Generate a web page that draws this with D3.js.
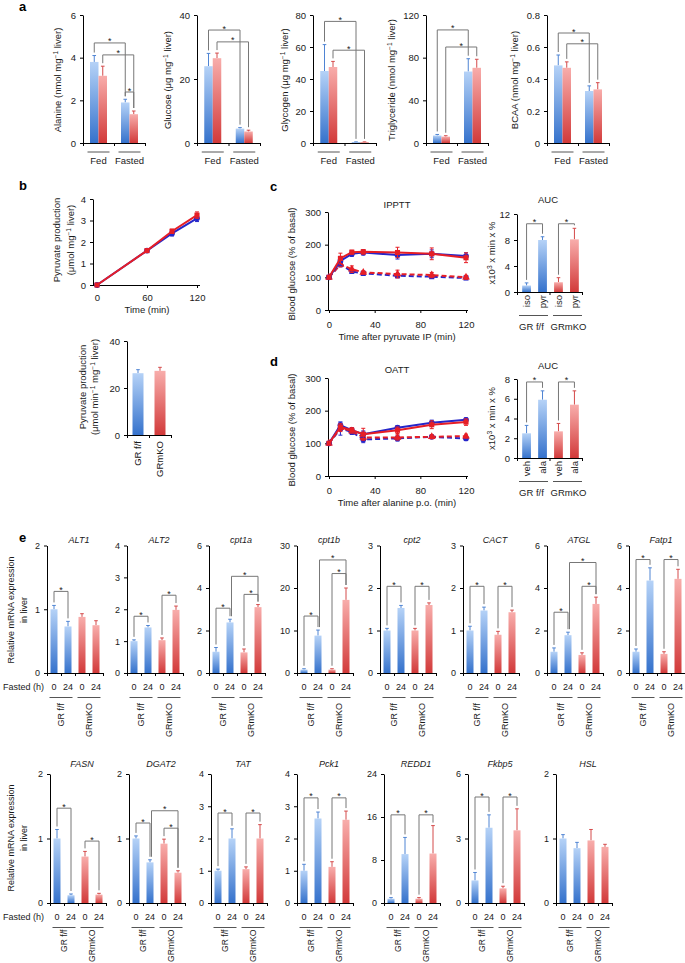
<!DOCTYPE html>
<html><head><meta charset="utf-8">
<script src="https://cdn.jsdelivr.net/npm/d3@7/dist/d3.min.js"></script>
<style>html,body{margin:0;padding:0;background:#fff;}svg{display:block;}</style>
</head><body>
<svg id="fig" width="685" height="963"></svg>
<script>
// ================= DATA =================
// panel a
const aGroups = ["Fed", "Fasted"];
const alanineTicks = [0, 2, 4, 6];
const alanineMean = [3.8, 3.15, 1.9, 1.35];
const alanineErr = [0.3, 0.45, 0.15, 0.15];
const glucoseTicks = [0, 20, 40];
const glucoseMean = [24, 26.5, 4.5, 3.6];
const glucoseErr = [4, 1.6, 0.3, 0.4];
const glycogenTicks = [0, 20, 40, 60, 80];
const glycogenMean = [45, 47.5, 0.5, 0.5];
const glycogenErr = [16.5, 3.5, 0.2, 0.2];
const tgTicks = [0, 40, 80, 120];
const tgMean = [7, 6, 67, 70.5];
const tgErr = [1, 0.8, 12, 8];
const bcaaTicks = [0, 0.2, 0.4, 0.6, 0.8];
const bcaaMean = [0.485, 0.47, 0.325, 0.335];
const bcaaErr = [0.065, 0.037, 0.032, 0.042];

// panel b
const bTime = [0, 60, 90, 120];
const bTimeTicks = [0, 60, 120];
const bProdTicks = [0, 1, 2, 3, 4];
const bFF = [0, 1.6, 2.4, 3.1];
const bFFErr = [0.03, 0.07, 0.12, 0.15];
const bKO = [0, 1.6, 2.5, 3.25];
const bKOErr = [0.03, 0.06, 0.1, 0.15];
const genotypes = ["GR f/f", "GRmKO"];
const bRateTicks = [0, 20, 40];
const bRateMean = [26.3, 27.3];
const bRateErr = [1.5, 1.5];

// panel c
const cdTime = [0, 10, 20, 30, 60, 90, 120];
const cdTimeTicks = [0, 40, 80, 120];
const cdGlucTicks = [0, 100, 200, 300];
const cPyrFF = [100, 150, 172, 176, 168, 172, 165];
const cPyrFFErr = [3, 14, 8, 8, 12, 12, 10];
const cPyrKO = [100, 158, 177, 178, 176, 172, 160];
const cPyrKOErr = [3, 16, 6, 7, 16, 18, 15];
const cIsoFF = [100, 140, 118, 112, 105, 102, 98];
const cIsoFFErr = [3, 8, 6, 5, 6, 5, 5];
const cIsoKO = [100, 140, 125, 115, 110, 107, 100];
const cIsoKOErr = [3, 8, 10, 5, 12, 8, 6];
const cAucLabels = ["iso", "pyr", "iso", "pyr"];
const cAucTicks = [0, 4, 8, 12];
const cAucMean = [1.0, 8.0, 1.5, 8.1];
const cAucErr = [0.4, 0.5, 0.7, 1.7];

// panel d
const dAlaFF = [100, 155, 140, 128, 148, 163, 172];
const dAlaFFErr = [3, 10, 8, 10, 6, 8, 6];
const dAlaKO = [100, 150, 140, 128, 140, 157, 165];
const dAlaKOErr = [3, 10, 8, 18, 10, 12, 10];
const dVehFF = [100, 145, 135, 112, 115, 120, 115];
const dVehFFErr = [3, 20, 8, 10, 8, 5, 6];
const dVehKO = [100, 148, 138, 118, 118, 120, 122];
const dVehKOErr = [3, 12, 8, 8, 8, 6, 6];
const dAucLabels = ["veh", "ala", "veh", "ala"];
const dAucTicks = [0, 2, 4, 6, 8];
const dAucMean = [2.5, 5.9, 2.7, 5.4];
const dAucErr = [0.8, 0.9, 0.8, 1.4];

// panel e
const eFastedLabels = ["0", "24", "0", "24"];
const eRow1Genes = ["ALT1", "ALT2", "cpt1a", "cpt1b", "cpt2", "CACT", "ATGL", "Fatp1"];
const eRow1Ticks = [[0,1,2],[0,1,2,3,4],[0,2,4,6],[0,10,20,30],[0,1,2,3],[0,1,2,3],[0,2,4,6],[0,2,4,6]];
const ALT1Mean = [1.0, 0.73, 0.88, 0.75];   const ALT1Err = [0.06, 0.08, 0.05, 0.07];
const ALT2Mean = [1.0, 1.43, 1.03, 1.98];   const ALT2Err = [0.04, 0.06, 0.07, 0.12];
const cpt1aMean = [1.0, 2.38, 0.97, 3.1];   const cpt1aErr = [0.2, 0.15, 0.16, 0.12];
const cpt1bMean = [0.8, 8.8, 0.8, 17.2];    const cpt1bErr = [0.2, 1.3, 0.2, 2.8];
const cpt2Mean = [1.0, 1.53, 1.0, 1.6];     const cpt2Err = [0.05, 0.06, 0.05, 0.05];
const CACTMean = [1.0, 1.47, 0.9, 1.43];    const CACTErr = [0.1, 0.08, 0.08, 0.05];
const ATGLMean = [1.0, 1.78, 0.85, 3.25];   const ATGLErr = [0.18, 0.14, 0.1, 0.32];
const Fatp1Mean = [1.0, 4.35, 0.9, 4.43];   const Fatp1Err = [0.13, 0.6, 0.1, 0.45];
const eRow2Genes = ["FASN", "DGAT2", "TAT", "Pck1", "REDD1", "Fkbp5", "HSL"];
const eRow2Ticks = [[0,1,2],[0,1,2],[0,1,2,3,4],[0,1,2,3,4],[0,8,16,24],[0,3,6],[0,1,2]];
const FASNMean = [1.0, 0.12, 0.72, 0.13];   const FASNErr = [0.14, 0.02, 0.08, 0.02];
const DGAT2Mean = [1.0, 0.63, 0.92, 0.47];  const DGAT2Err = [0.04, 0.04, 0.07, 0.03];
const TATMean = [1.0, 2.0, 1.05, 2.0];      const TATErr = [0.05, 0.3, 0.07, 0.43];
const Pck1Mean = [1.0, 2.62, 1.12, 2.58];   const Pck1Err = [0.2, 0.2, 0.16, 0.27];
const REDD1Mean = [0.8, 9.1, 0.8, 9.2];     const REDD1Err = [0.2, 3.1, 0.2, 5.2];
const Fkbp5Mean = [1.05, 3.5, 0.68, 3.38];  const Fkbp5Err = [0.37, 0.6, 0.1, 1.0];
const HSLMean = [1.0, 0.85, 0.97, 0.87];    const HSLErr = [0.06, 0.09, 0.17, 0.04];

// ================= DRAWING =================
const FONT = "'Liberation Sans', Arial, Helvetica, sans-serif";
const svg = d3.select("#fig").attr("font-family", FONT);
const defs = svg.append("defs");
function grad(id, top, bot) {
  const g = defs.append("linearGradient").attr("id", id).attr("x1", 0).attr("y1", 0).attr("x2", 0).attr("y2", 1);
  g.append("stop").attr("offset", "0%").attr("stop-color", top);
  g.append("stop").attr("offset", "100%").attr("stop-color", bot);
}
grad("gradB", "#b5d2f7", "#3572cc");
grad("gradR", "#f8adab", "#d23a3a");
const errCol = { B: "#4f84d3", R: "#d44a4a" };
const LBLUE = "#2626c9", LRED = "#e61e26";
const BR = "#777";
const TXT = "#1a1a1a";

function txt(x, y, s, o = {}) {
  const t = svg.append("text").attr("font-size", o.fs || 9.5).attr("fill", o.fill || TXT)
    .attr("text-anchor", o.anchor || "middle");
  if (o.rot != null) t.attr("transform", `translate(${x},${y}) rotate(${o.rot})`);
  else t.attr("x", x).attr("y", y);
  if (o.dy) t.attr("dy", o.dy);
  if (o.italic) t.attr("font-style", "italic");
  if (o.bold) t.attr("font-weight", "bold");
  if (typeof s === "string") t.text(s);
  else {
    let prevSup = false;
    s.forEach(([str, sup]) => {
      const ts = t.append("tspan").text(str);
      if (sup && !prevSup) ts.attr("dy", -3.5).attr("font-size", (o.fs || 9.5) * 0.7);
      else if (sup) ts.attr("font-size", (o.fs || 9.5) * 0.7);
      else if (prevSup) ts.attr("dy", 3.5);
      prevSup = !!sup;
    });
  }
  return t;
}
function styleAxis(ax, fs) {
  ax.attr("font-family", FONT).attr("font-size", fs);
  ax.select(".domain").attr("stroke", "#000").attr("stroke-width", 1);
  ax.selectAll(".tick line").attr("stroke", "#000");
  ax.selectAll(".tick text").attr("fill", TXT);
}
function leftAxis(x, y, ticks, fs = 9.5, pad = 4) {
  const ax = svg.append("g").attr("transform", `translate(${x},0)`)
    .call(d3.axisLeft(y).tickValues(ticks).tickFormat(d => String(d)).tickSize(3).tickSizeOuter(0).tickPadding(pad));
  styleAxis(ax, fs);
  return ax;
}
function boundaryAxis(x0, x1, yB, n) {
  const s = d3.scaleLinear().domain([0, n]).range([x0, x1]);
  const ax = svg.append("g").attr("transform", `translate(0,${yB})`)
    .call(d3.axisBottom(s).tickValues(d3.range(n + 1)).tickFormat("").tickSize(3).tickSizeOuter(0));
  styleAxis(ax, 9);
}
function drawBars(xs, bw, y, means, errs, cols) {
  const d = means.map((m, i) => ({ x: xs[i], m, e: errs[i], c: cols[i] }));
  svg.append("g").selectAll("path").data(d).join("path")
    .attr("d", p => `M${p.x},${y(p.m)}V${y(p.m + p.e)}M${p.x - 1.8},${y(p.m + p.e)}H${p.x + 1.8}`)
    .attr("stroke", p => errCol[p.c]).attr("stroke-width", 1).attr("fill", "none");
  svg.append("g").selectAll("rect").data(d).join("rect")
    .attr("x", p => p.x - bw / 2).attr("width", bw)
    .attr("y", p => y(p.m)).attr("height", p => Math.max(0.8, y(0) - y(p.m)))
    .attr("fill", p => `url(#grad${p.c})`);
}
function drawBracket(xL, xR, yH, yL, yR) {
  svg.append("path").attr("d", `M${xL},${yL}V${yH}H${xR}V${yR}`)
    .attr("stroke", BR).attr("stroke-width", 1).attr("fill", "none");
  txt((xL + xR) / 2, yH + 1.5, "*", { fs: 9 });
}
function lineSeries(xs, ys, X, V, E, color, sym, dashed) {
  const pts = X.map((t, i) => ({ x: xs(t), y: ys(V[i]), lo: ys(V[i] - E[i]), hi: ys(V[i] + E[i]) }));
  svg.append("g").selectAll("path").data(pts).join("path")
    .attr("d", p => `M${p.x},${p.lo}V${p.hi}M${p.x - 2},${p.hi}H${p.x + 2}M${p.x - 2},${p.lo}H${p.x + 2}`)
    .attr("stroke", color).attr("stroke-width", 1).attr("fill", "none");
  svg.append("path").datum(pts).attr("d", d3.line().x(p => p.x).y(p => p.y))
    .attr("stroke", color).attr("stroke-width", 2).attr("fill", "none")
    .attr("stroke-dasharray", dashed ? "5,3" : null);
  svg.append("g").selectAll("path").data(pts).join("path")
    .attr("transform", p => `translate(${p.x},${p.y})`)
    .attr("d", d3.symbol().type(sym).size(26)).attr("fill", color);
}

// ---------- panel labels ----------
txt(19, 11, "a", { fs: 13, bold: true, anchor: "start", fill: "#000" });
txt(19, 190, "b", { fs: 13, bold: true, anchor: "start", fill: "#000" });
txt(270, 191, "c", { fs: 13, bold: true, anchor: "start", fill: "#000" });
txt(270, 366, "d", { fs: 13, bold: true, anchor: "start", fill: "#000" });
txt(19, 542, "e", { fs: 13, bold: true, anchor: "start", fill: "#000" });

// ---------- panel a ----------
const aTop = 15, aBot = 143;
const aPanels = [
  { x0: 83, w: 62, mean: alanineMean, err: alanineErr, ticks: alanineTicks, lx: 58,
    label: [["Alanine (nmol mg", 0], ["−1", 1], [" liver)", 0]], br: [[0, 2, 4.69], [1, 3, 4.13], [2, 3, 2.39]] },
  { x0: 197, w: 63, mean: glucoseMean, err: glucoseErr, ticks: glucoseTicks, lx: 168,
    label: [["Glucose (μg mg", 0], ["−1", 1], [" liver)", 0]], br: [[0, 2, 35.3], [1, 3, 31.6]] },
  { x0: 313, w: 63, mean: glycogenMean, err: glycogenErr, ticks: glycogenTicks, lx: 285,
    label: [["Glycogen (μg mg", 0], ["−1", 1], [" liver)", 0]], br: [[0, 2, 76], [1, 3, 58]] },
  { x0: 426, w: 62, mean: tgMean, err: tgErr, ticks: tgTicks, lx: 392,
    label: [["Triglyceride (nmol mg", 0], ["−1", 1], [" liver)", 0]], br: [[0, 2, 106], [1, 3, 90]] },
  { x0: 547, w: 62, mean: bcaaMean, err: bcaaErr, ticks: bcaaTicks, lx: 515,
    label: [["BCAA (nmol mg", 0], ["−1", 1], [" liver)", 0]], br: [[0, 2, 0.6875], [1, 3, 0.62]] }
];
aPanels.forEach(p => {
  const y = d3.scaleLinear().domain([0, p.ticks[p.ticks.length - 1]]).range([aBot, aTop]);
  const gb = d3.scaleBand().domain(aGroups).range([p.x0, p.x0 + p.w]);
  const ib = d3.scaleBand().domain(genotypes).range([-8.5, 8.5]);
  const xs = [];
  aGroups.forEach(g => genotypes.forEach(s => xs.push(gb(g) + gb.bandwidth() / 2 + ib(s) + ib.bandwidth() / 2)));
  leftAxis(p.x0, y, p.ticks, 9.5, 4);
  boundaryAxis(p.x0, p.x0 + p.w, aBot, 2);
  drawBars(xs, ib.bandwidth(), y, p.mean, p.err, ["B", "R", "B", "R"]);
  p.br.forEach(([i, j, h]) => drawBracket(xs[i], xs[j], y(h), y(p.mean[i] + p.err[i]) - 3, y(p.mean[j] + p.err[j]) - 3));
  aGroups.forEach(g => {
    const cx = gb(g) + gb.bandwidth() / 2;
    svg.append("line").attr("x1", cx - 11).attr("x2", cx + 11).attr("y1", 152).attr("y2", 152).attr("stroke", "#555");
    txt(cx, 164, g, { fs: 9.5 });
  });
  txt(p.lx, 80, p.label, { rot: -90, dy: "0.35em", fs: 9.5 });
});

// ---------- panel b (line) ----------
{
  const xs = d3.scaleLinear().domain([0, 120]).range([97, 197]);
  const ys = d3.scaleLinear().domain([0, 4]).range([285, 199]);
  leftAxis(93, ys, bProdTicks, 9.5, 4);
  const ax = svg.append("g").attr("transform", "translate(0,285)")
    .call(d3.axisBottom(xs).tickValues(bTimeTicks).tickFormat(d => String(d)).tickSize(3).tickSizeOuter(0).tickPadding(6));
  styleAxis(ax, 9.5);
  ax.select(".domain").attr("d", "M93,0.5H200");
  lineSeries(xs, ys, bTime, bFF, bFFErr, LBLUE, d3.symbolCircle, false);
  lineSeries(xs, ys, bTime, bKO, bKOErr, LRED, d3.symbolSquare, false);
  txt(147, 313, "Time (min)", { fs: 9.5 });
  txt(57, 240, "Pyruvate production", { rot: -90, dy: "0.35em" });
  txt(71, 240, [["(μmol mg", 0], ["−1", 1], [" liver)", 0]], { rot: -90, dy: "0.35em" });
}
// ---------- panel b (bar) ----------
{
  const y = d3.scaleLinear().domain([0, 40]).range([435, 341]);
  const xb = d3.scaleBand().domain(genotypes).range([127, 171]).paddingInner(0.5).paddingOuter(0.25);
  const xs = genotypes.map(g => xb(g) + xb.bandwidth() / 2);
  leftAxis(127, y, bRateTicks, 9.5, 4);
  boundaryAxis(127, 171, 435, 2);
  drawBars(xs, xb.bandwidth(), y, bRateMean, bRateErr, ["B", "R"]);
  genotypes.forEach((g, i) => txt(xs[i], 441, g, { rot: -90, anchor: "end", dy: "0.35em" }));
  txt(83, 387, "Pyruvate production", { rot: -90, dy: "0.35em" });
  txt(95, 387, [["(μmol min", 0], ["−1", 1], [" mg", 0], ["−1", 1], [" liver)", 0]], { rot: -90, dy: "0.35em" });
}

// ---------- panels c & d ----------
function glucoseLine(yTop, yBot, title, titleY, xlabel, series) {
  const xs = d3.scaleLinear().domain([0, 120]).range([329, 466]);
  const ys = d3.scaleLinear().domain([0, 300]).range([yBot, yTop]);
  leftAxis(328, ys, cdGlucTicks, 9.5, 4);
  const ax = svg.append("g").attr("transform", `translate(0,${yBot})`)
    .call(d3.axisBottom(xs).tickValues(cdTimeTicks).tickFormat(d => String(d)).tickSize(3).tickSizeOuter(0).tickPadding(8));
  styleAxis(ax, 9.5);
  ax.select(".domain").attr("d", "M328,0.5H468");
  series.forEach(s => lineSeries(xs, ys, cdTime, s[0], s[1], s[2], s[3], s[4]));
  txt(397, titleY, title, { fs: 9.5 });
  txt(397, yBot + 30, xlabel, { fs: 9.5 });
  txt(292, (yTop + yBot) / 2 + 3, "Blood glucose (% of basal)", { rot: -90, dy: "0.35em" });
}
function aucChart(yTop, yBot, ticks, labels, mean, err, brH, titleY) {
  const y = d3.scaleLinear().domain([0, ticks[ticks.length - 1]]).range([yBot, yTop]);
  const xb = d3.scaleBand().domain(d3.range(4)).range([519, 582]).paddingInner(0.45).paddingOuter(0.2);
  const xs = d3.range(4).map(i => xb(i) + xb.bandwidth() / 2);
  leftAxis(517, y, ticks, 9.5, 4);
  boundaryAxis(517, 582, yBot, 2);
  drawBars(xs, xb.bandwidth(), y, mean, err, ["B", "B", "R", "R"]);
  [[0, 1], [2, 3]].forEach(([i, j]) => drawBracket(xs[i], xs[j], y(brH), y(mean[i] + err[i]) - 3, y(mean[j] + err[j]) - 3));
  labels.forEach((l, i) => txt(xs[i], yBot + 3, l, { rot: -90, anchor: "end", dy: "0.35em" }));
  [[519, 548], [553, 582]].forEach(([a, b], g) => {
    svg.append("line").attr("x1", a).attr("x2", b).attr("y1", yBot + 23.5).attr("y2", yBot + 23.5).attr("stroke", "#555");
    txt((a + b) / 2 - (g ? -1 : 2), yBot + 38, genotypes[g]);
  });
  txt(548, titleY, "AUC");
  txt(492, (yTop + yBot) / 2, [["x10", 0], ["3", 1], [" x min x %", 0]], { rot: -90, dy: "0.35em" });
}
glucoseLine(212, 310, "IPPTT", 208, "Time after pyruvate IP (min)", [
  [cIsoFF, cIsoFFErr, LBLUE, d3.symbolSquare, true],
  [cIsoKO, cIsoKOErr, LRED, d3.symbolTriangle, true],
  [cPyrFF, cPyrFFErr, LBLUE, d3.symbolCircle, false],
  [cPyrKO, cPyrKOErr, LRED, d3.symbolSquare, false]
]);
aucChart(214, 292, cAucTicks, cAucLabels, cAucMean, cAucErr, 10.5, 203);
glucoseLine(378, 476, "OATT", 373, "Time after alanine p.o. (min)", [
  [dVehFF, dVehFFErr, LBLUE, d3.symbolCircle, true],
  [dVehKO, dVehKOErr, LRED, d3.symbolTriangle, true],
  [dAlaFF, dAlaFFErr, LBLUE, d3.symbolCircle, false],
  [dAlaKO, dAlaKOErr, LRED, d3.symbolSquare, false]
]);
aucChart(379, 458, dAucTicks, dAucLabels, dAucMean, dAucErr, 7.7, 369);

// ---------- panel e ----------
function gene(name, x0, yTop, yBot, ticks, mean, err, brs, titleY, gOff, gFs) {
  const w = 56;
  const y = d3.scaleLinear().domain([0, ticks[ticks.length - 1]]).range([yBot, yTop]);
  const xb = d3.scaleBand().domain(d3.range(4)).range([x0, x0 + w]).paddingInner(0.5).paddingOuter(0.25);
  const xs = d3.range(4).map(i => xb(i) + xb.bandwidth() / 2);
  leftAxis(x0, y, ticks, 9, 4);
  boundaryAxis(x0, x0 + w, yBot, 4);
  drawBars(xs, xb.bandwidth(), y, mean, err, ["B", "B", "R", "R"]);
  brs.forEach(([i, j, h]) => drawBracket(xs[i] + (j - i > 1 ? 1.5 : 0), xs[j], y(h), y(mean[i] + err[i]) - 3, y(mean[j] + err[j]) - 3));
  txt(x0 + w / 2 + 4, titleY, name, { fs: 9, italic: true });
  eFastedLabels.forEach((l, i) => txt(xs[i], yBot + 16.5, l, { fs: 9 }));
  [0, 1].forEach(g => {
    const cx = (xs[2 * g] + xs[2 * g + 1]) / 2;
    svg.append("line").attr("x1", cx - 11.5).attr("x2", cx + 11.5).attr("y1", yBot + 24.5).attr("y2", yBot + 24.5).attr("stroke", "#555");
    txt(cx, yBot + gOff, genotypes[g], { fs: gFs, rot: -90, anchor: "end", dy: "0.35em" });
  });
}
const r1x = [47, 127, 209, 297, 380, 463, 547, 629];
const r1Data = [
  [ALT1Mean, ALT1Err, [[0, 1, 1.28]]],
  [ALT2Mean, ALT2Err, [[0, 1, 1.78], [2, 3, 2.44]]],
  [cpt1aMean, cpt1aErr, [[0, 1, 3.05], [2, 3, 3.7], [1, 3, 4.55]]],
  [cpt1bMean, cpt1bErr, [[0, 1, 13.4], [2, 3, 23.4], [1, 3, 26.6]]],
  [cpt2Mean, cpt2Err, [[0, 1, 2.04], [2, 3, 2.04]]],
  [CACTMean, CACTErr, [[0, 1, 2.04], [2, 3, 2.04]]],
  [ATGLMean, ATGLErr, [[0, 1, 2.86], [2, 3, 4.08], [1, 3, 5.2]]],
  [Fatp1Mean, Fatp1Err, [[0, 1, 5.34], [2, 3, 5.34]]]
];
eRow1Genes.forEach((gname, k) => gene(gname, r1x[k], 545.5, 673, eRow1Ticks[k], r1Data[k][0], r1Data[k][1], r1Data[k][2], 543, 30, 9));
const r2x = [50, 129, 211, 297, 384, 468, 556];
const r2Data = [
  [FASNMean, FASNErr, [[0, 1, 1.47], [2, 3, 0.96]]],
  [DGAT2Mean, DGAT2Err, [[0, 1, 1.24], [2, 3, 1.16], [1, 3, 1.43]]],
  [TATMean, TATErr, [[0, 1, 2.79], [2, 3, 2.79]]],
  [Pck1Mean, Pck1Err, [[0, 1, 3.26], [2, 3, 3.26]]],
  [REDD1Mean, REDD1Err, [[0, 1, 16.4], [2, 3, 16.4]]],
  [Fkbp5Mean, Fkbp5Err, [[0, 1, 4.93], [2, 3, 4.93]]],
  [HSLMean, HSLErr, []]
];
eRow2Genes.forEach((gname, k) => gene(gname, r2x[k], 774, 903, eRow2Ticks[k], r2Data[k][0], r2Data[k][1], r2Data[k][2], 767, 26.5, 8.6));
[[673, 610], [903, 838]].forEach(([yb, cy]) => {
  txt(44, yb + 16.5, "Fasted (h)", { fs: 9, anchor: "end" });
  txt(11, cy, "Relative mRNA expression", { fs: 9, rot: -90, dy: "0.35em" });
  txt(24, cy, "in liver", { fs: 9, rot: -90, dy: "0.35em" });
});
</script>
</body></html>
